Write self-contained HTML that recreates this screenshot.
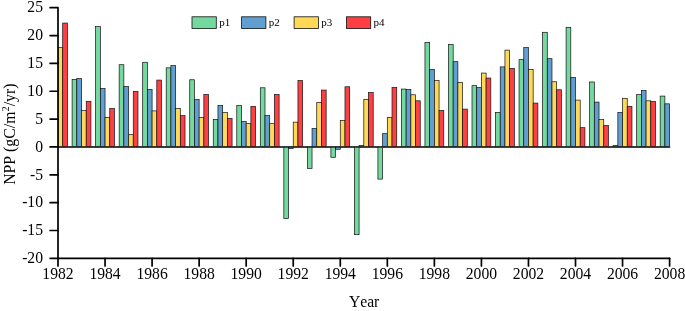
<!DOCTYPE html>
<html><head><meta charset="utf-8"><title>NPP chart</title>
<style>html,body{margin:0;padding:0;background:#fff}svg{display:block}</style></head>
<body>
<svg width="685" height="311" viewBox="0 0 685 311" font-family="'Liberation Serif', serif" fill="#000">
<rect width="685" height="311" fill="#fff"/>
<defs><clipPath id="c"><rect x="58.00" y="0" width="611.90" height="300"/></clipPath></defs>
<path d="M58.00 146.93H669.60" stroke="#000" stroke-width="1.5" stroke-linecap="round"/>
<g clip-path="url(#c)" stroke="#111" stroke-width="0.7">
<rect x="58.00" y="47.62" width="4.70" height="99.01" fill="#fed958"/>
<rect x="62.70" y="23.05" width="4.70" height="123.58" fill="#fe4044"/>
<rect x="72.11" y="79.53" width="4.70" height="67.10" fill="#73d99e"/>
<rect x="76.82" y="78.53" width="4.70" height="68.10" fill="#619fd2"/>
<rect x="81.52" y="110.61" width="4.70" height="36.02" fill="#fed958"/>
<rect x="86.23" y="101.31" width="4.70" height="45.32" fill="#fe4044"/>
<rect x="95.64" y="26.62" width="4.70" height="120.01" fill="#73d99e"/>
<rect x="100.34" y="88.56" width="4.70" height="58.07" fill="#619fd2"/>
<rect x="105.05" y="117.63" width="4.70" height="29.00" fill="#fed958"/>
<rect x="109.75" y="108.61" width="4.70" height="38.02" fill="#fe4044"/>
<rect x="119.16" y="64.72" width="4.70" height="81.91" fill="#73d99e"/>
<rect x="123.86" y="86.55" width="4.70" height="60.08" fill="#619fd2"/>
<rect x="128.57" y="134.68" width="4.70" height="11.95" fill="#fed958"/>
<rect x="133.27" y="91.56" width="4.70" height="55.07" fill="#fe4044"/>
<rect x="142.68" y="62.27" width="4.70" height="84.36" fill="#73d99e"/>
<rect x="147.39" y="89.56" width="4.70" height="57.07" fill="#619fd2"/>
<rect x="152.09" y="110.89" width="4.70" height="35.74" fill="#fed958"/>
<rect x="156.80" y="80.09" width="4.70" height="66.54" fill="#fe4044"/>
<rect x="166.21" y="67.84" width="4.70" height="78.79" fill="#73d99e"/>
<rect x="170.91" y="65.61" width="4.70" height="81.02" fill="#619fd2"/>
<rect x="175.62" y="108.39" width="4.70" height="38.24" fill="#fed958"/>
<rect x="180.32" y="115.63" width="4.70" height="31.00" fill="#fe4044"/>
<rect x="189.73" y="79.76" width="4.70" height="66.87" fill="#73d99e"/>
<rect x="194.43" y="99.59" width="4.70" height="47.04" fill="#619fd2"/>
<rect x="199.14" y="117.41" width="4.70" height="29.22" fill="#fed958"/>
<rect x="203.84" y="94.57" width="4.70" height="52.06" fill="#fe4044"/>
<rect x="213.25" y="119.41" width="4.70" height="27.22" fill="#73d99e"/>
<rect x="217.96" y="105.60" width="4.70" height="41.03" fill="#619fd2"/>
<rect x="222.66" y="112.62" width="4.70" height="34.01" fill="#fed958"/>
<rect x="227.37" y="118.41" width="4.70" height="28.22" fill="#fe4044"/>
<rect x="236.78" y="105.32" width="4.70" height="41.31" fill="#73d99e"/>
<rect x="241.48" y="121.64" width="4.70" height="24.99" fill="#619fd2"/>
<rect x="246.18" y="123.65" width="4.70" height="22.98" fill="#fed958"/>
<rect x="250.89" y="106.32" width="4.70" height="40.31" fill="#fe4044"/>
<rect x="260.30" y="87.78" width="4.70" height="58.85" fill="#73d99e"/>
<rect x="265.00" y="115.63" width="4.70" height="31.00" fill="#619fd2"/>
<rect x="269.71" y="123.65" width="4.70" height="22.98" fill="#fed958"/>
<rect x="274.41" y="94.57" width="4.70" height="52.06" fill="#fe4044"/>
<rect x="283.82" y="147.23" width="4.70" height="71.39" fill="#73d99e"/>
<rect x="288.53" y="147.23" width="4.70" height="1.32" fill="#619fd2"/>
<rect x="293.23" y="122.14" width="4.70" height="24.49" fill="#fed958"/>
<rect x="297.94" y="80.54" width="4.70" height="66.09" fill="#fe4044"/>
<rect x="307.34" y="147.23" width="4.70" height="21.14" fill="#73d99e"/>
<rect x="312.05" y="128.44" width="4.70" height="18.19" fill="#619fd2"/>
<rect x="316.75" y="102.59" width="4.70" height="44.04" fill="#fed958"/>
<rect x="321.46" y="90.06" width="4.70" height="56.57" fill="#fe4044"/>
<rect x="330.87" y="147.23" width="4.70" height="10.06" fill="#73d99e"/>
<rect x="335.57" y="147.23" width="4.70" height="2.04" fill="#619fd2"/>
<rect x="340.28" y="120.42" width="4.70" height="26.21" fill="#fed958"/>
<rect x="344.98" y="86.77" width="4.70" height="59.86" fill="#fe4044"/>
<rect x="354.39" y="147.23" width="4.70" height="87.43" fill="#73d99e"/>
<rect x="359.10" y="145.54" width="4.70" height="1.09" fill="#619fd2"/>
<rect x="363.80" y="99.59" width="4.70" height="47.04" fill="#fed958"/>
<rect x="368.50" y="92.57" width="4.70" height="54.06" fill="#fe4044"/>
<rect x="377.91" y="147.23" width="4.70" height="31.89" fill="#73d99e"/>
<rect x="382.62" y="133.67" width="4.70" height="12.96" fill="#619fd2"/>
<rect x="387.32" y="117.63" width="4.70" height="29.00" fill="#fed958"/>
<rect x="392.03" y="87.55" width="4.70" height="59.08" fill="#fe4044"/>
<rect x="401.44" y="89.06" width="4.70" height="57.57" fill="#73d99e"/>
<rect x="406.14" y="89.56" width="4.70" height="57.07" fill="#619fd2"/>
<rect x="410.85" y="94.79" width="4.70" height="51.84" fill="#fed958"/>
<rect x="415.55" y="100.81" width="4.70" height="45.82" fill="#fe4044"/>
<rect x="424.96" y="42.60" width="4.70" height="104.03" fill="#73d99e"/>
<rect x="429.66" y="69.40" width="4.70" height="77.23" fill="#619fd2"/>
<rect x="434.37" y="80.48" width="4.70" height="66.15" fill="#fed958"/>
<rect x="439.07" y="110.61" width="4.70" height="36.02" fill="#fe4044"/>
<rect x="448.48" y="44.61" width="4.70" height="102.02" fill="#73d99e"/>
<rect x="453.19" y="61.65" width="4.70" height="84.98" fill="#619fd2"/>
<rect x="457.89" y="82.49" width="4.70" height="64.14" fill="#fed958"/>
<rect x="462.60" y="109.11" width="4.70" height="37.52" fill="#fe4044"/>
<rect x="472.01" y="85.66" width="4.70" height="60.97" fill="#73d99e"/>
<rect x="476.71" y="87.55" width="4.70" height="59.08" fill="#619fd2"/>
<rect x="481.42" y="73.07" width="4.70" height="73.56" fill="#fed958"/>
<rect x="486.12" y="78.08" width="4.70" height="68.55" fill="#fe4044"/>
<rect x="495.53" y="112.40" width="4.70" height="34.23" fill="#73d99e"/>
<rect x="500.23" y="66.89" width="4.70" height="79.74" fill="#619fd2"/>
<rect x="504.94" y="50.12" width="4.70" height="96.51" fill="#fed958"/>
<rect x="509.64" y="68.39" width="4.70" height="78.24" fill="#fe4044"/>
<rect x="519.05" y="59.65" width="4.70" height="86.98" fill="#73d99e"/>
<rect x="523.76" y="47.62" width="4.70" height="99.01" fill="#619fd2"/>
<rect x="528.46" y="69.40" width="4.70" height="77.23" fill="#fed958"/>
<rect x="533.17" y="103.09" width="4.70" height="43.54" fill="#fe4044"/>
<rect x="542.58" y="32.30" width="4.70" height="114.33" fill="#73d99e"/>
<rect x="547.28" y="58.65" width="4.70" height="87.98" fill="#619fd2"/>
<rect x="551.98" y="81.76" width="4.70" height="64.87" fill="#fed958"/>
<rect x="556.69" y="89.78" width="4.70" height="56.85" fill="#fe4044"/>
<rect x="566.10" y="27.51" width="4.70" height="119.12" fill="#73d99e"/>
<rect x="570.80" y="77.47" width="4.70" height="69.16" fill="#619fd2"/>
<rect x="575.51" y="100.09" width="4.70" height="46.54" fill="#fed958"/>
<rect x="580.21" y="127.66" width="4.70" height="18.97" fill="#fe4044"/>
<rect x="589.62" y="81.98" width="4.70" height="64.65" fill="#73d99e"/>
<rect x="594.33" y="102.09" width="4.70" height="44.54" fill="#619fd2"/>
<rect x="599.03" y="119.64" width="4.70" height="26.99" fill="#fed958"/>
<rect x="603.74" y="125.43" width="4.70" height="21.20" fill="#fe4044"/>
<rect x="613.14" y="145.48" width="4.70" height="1.15" fill="#73d99e"/>
<rect x="617.85" y="112.40" width="4.70" height="34.23" fill="#619fd2"/>
<rect x="622.55" y="98.30" width="4.70" height="48.33" fill="#fed958"/>
<rect x="627.26" y="106.32" width="4.70" height="40.31" fill="#fe4044"/>
<rect x="636.67" y="94.57" width="4.70" height="52.06" fill="#73d99e"/>
<rect x="641.37" y="90.56" width="4.70" height="56.07" fill="#619fd2"/>
<rect x="646.08" y="100.81" width="4.70" height="45.82" fill="#fed958"/>
<rect x="650.78" y="101.59" width="4.70" height="45.04" fill="#fe4044"/>
<rect x="660.19" y="96.08" width="4.70" height="50.55" fill="#73d99e"/>
<rect x="664.90" y="103.82" width="4.70" height="42.81" fill="#619fd2"/>
</g>
<g stroke="#000" stroke-width="1.7" fill="none" stroke-linecap="round" stroke-linejoin="round">
<path d="M50.10 7.70H58.00V265.95"/>
<path d="M50.10 258.35H669.60"/>
<path d="M50.10 146.93H58.00"/>
<path d="M50.10 230.48H58.00"/>
<path d="M50.10 202.63H58.00"/>
<path d="M50.10 174.78H58.00"/>
<path d="M50.10 119.08H58.00"/>
<path d="M50.10 91.23H58.00"/>
<path d="M50.10 63.38H58.00"/>
<path d="M50.10 35.53H58.00"/>
<path d="M105.05 258.35V265.95"/>
<path d="M152.09 258.35V265.95"/>
<path d="M199.14 258.35V265.95"/>
<path d="M246.18 258.35V265.95"/>
<path d="M293.23 258.35V265.95"/>
<path d="M340.28 258.35V265.95"/>
<path d="M387.32 258.35V265.95"/>
<path d="M434.37 258.35V265.95"/>
<path d="M481.42 258.35V265.95"/>
<path d="M528.46 258.35V265.95"/>
<path d="M575.51 258.35V265.95"/>
<path d="M622.55 258.35V265.95"/>
<path d="M669.60 258.35V265.95"/>
</g>
<g font-size="16.4" style="font-kerning:none">
<text transform="translate(43.0,263.13) scale(0.955,1)" text-anchor="end">-20</text>
<text transform="translate(43.0,235.28) scale(0.955,1)" text-anchor="end">-15</text>
<text transform="translate(43.0,207.43) scale(0.955,1)" text-anchor="end">-10</text>
<text transform="translate(43.0,179.58) scale(0.955,1)" text-anchor="end">-5</text>
<text transform="translate(43.0,151.73) scale(0.955,1)" text-anchor="end">0</text>
<text transform="translate(43.0,123.88) scale(0.955,1)" text-anchor="end">5</text>
<text transform="translate(43.0,96.03) scale(0.955,1)" text-anchor="end">10</text>
<text transform="translate(43.0,68.18) scale(0.955,1)" text-anchor="end">15</text>
<text transform="translate(43.0,40.33) scale(0.955,1)" text-anchor="end">20</text>
<text transform="translate(43.0,12.48) scale(0.955,1)" text-anchor="end">25</text>
<text transform="translate(58.00,279.1) scale(0.955,1)" text-anchor="middle">1982</text>
<text transform="translate(105.05,279.1) scale(0.955,1)" text-anchor="middle">1984</text>
<text transform="translate(152.09,279.1) scale(0.955,1)" text-anchor="middle">1986</text>
<text transform="translate(199.14,279.1) scale(0.955,1)" text-anchor="middle">1988</text>
<text transform="translate(246.18,279.1) scale(0.955,1)" text-anchor="middle">1990</text>
<text transform="translate(293.23,279.1) scale(0.955,1)" text-anchor="middle">1992</text>
<text transform="translate(340.28,279.1) scale(0.955,1)" text-anchor="middle">1994</text>
<text transform="translate(387.32,279.1) scale(0.955,1)" text-anchor="middle">1996</text>
<text transform="translate(434.37,279.1) scale(0.955,1)" text-anchor="middle">1998</text>
<text transform="translate(481.42,279.1) scale(0.955,1)" text-anchor="middle">2000</text>
<text transform="translate(528.46,279.1) scale(0.955,1)" text-anchor="middle">2002</text>
<text transform="translate(575.51,279.1) scale(0.955,1)" text-anchor="middle">2004</text>
<text transform="translate(622.55,279.1) scale(0.955,1)" text-anchor="middle">2006</text>
<text transform="translate(669.60,279.1) scale(0.955,1)" text-anchor="middle">2008</text>
<text transform="translate(364.1,307.4) scale(0.955,1)" text-anchor="middle">Year</text>
<text font-size="15.8" transform="translate(14.8,134.2) rotate(-90)" text-anchor="middle">NPP (gC/m<tspan font-size="10.4" dy="-5.5">2</tspan><tspan dy="5.5">/yr)</tspan></text>
</g>
<g font-size="11">
<rect x="192.00" y="16.8" width="24.3" height="11.8" fill="#73d99e" stroke="#111" stroke-width="0.8"/>
<text x="219.20" y="26.3">p1</text>
<rect x="241.60" y="16.8" width="24.3" height="11.8" fill="#619fd2" stroke="#111" stroke-width="0.8"/>
<text x="268.80" y="26.3">p2</text>
<rect x="294.10" y="16.8" width="24.3" height="11.8" fill="#fed958" stroke="#111" stroke-width="0.8"/>
<text x="321.30" y="26.3">p3</text>
<rect x="346.40" y="16.8" width="24.3" height="11.8" fill="#fe4044" stroke="#111" stroke-width="0.8"/>
<text x="373.60" y="26.3">p4</text>
</g>
</svg>
</body></html>
